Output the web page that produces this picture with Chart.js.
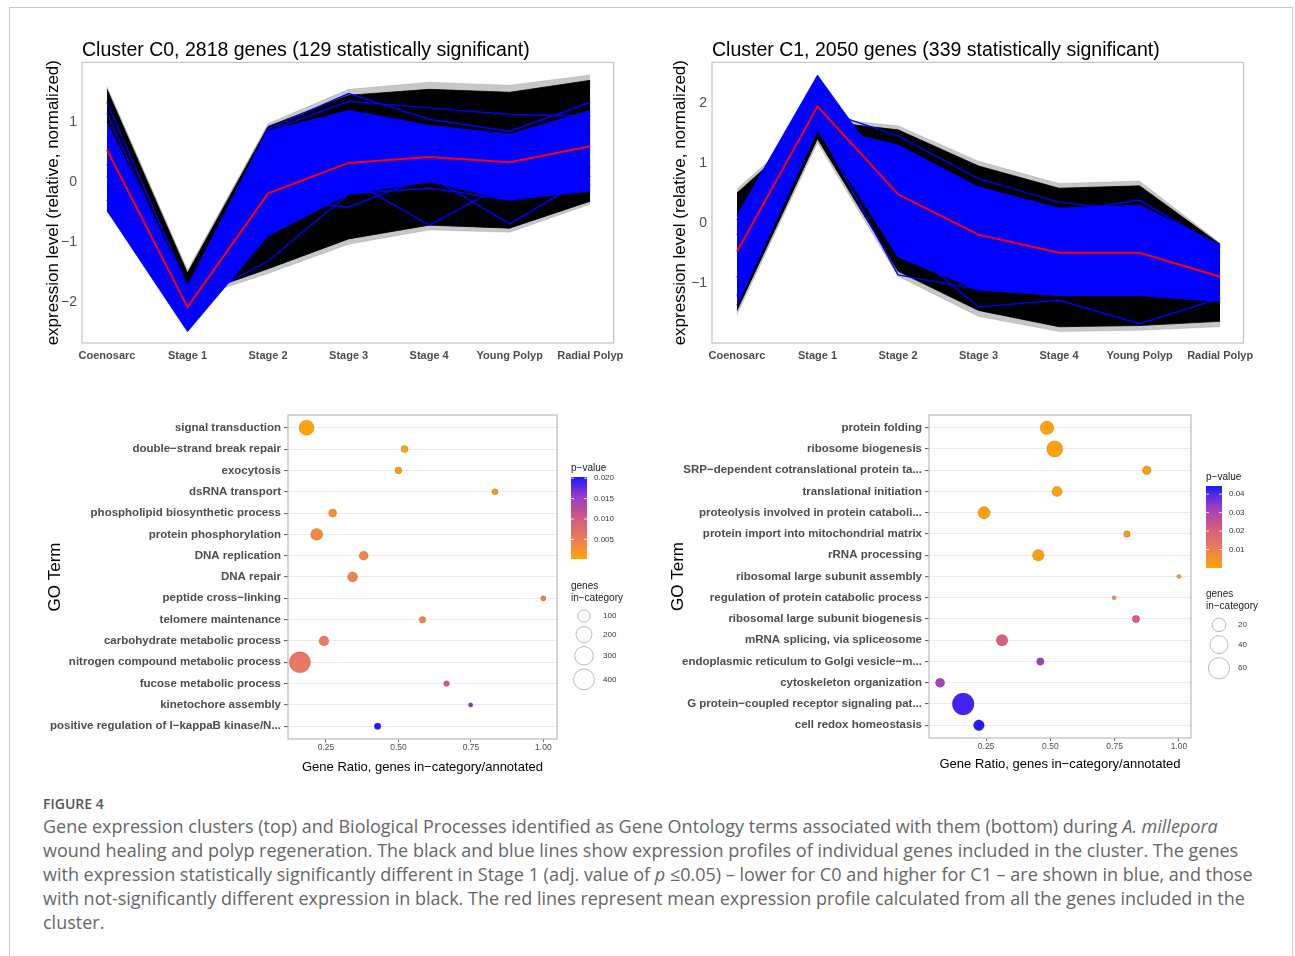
<!DOCTYPE html>
<html>
<head>
<meta charset="utf-8">
<title>Figure 4</title>
<script src="https://cdn.jsdelivr.net/npm/chart.js@4.4.1/dist/chart.umd.min.js"></script>
<style>
  html, body { margin: 0; padding: 0; background: #fff; }
  body { width: 1295px; height: 956px; position: relative; overflow: hidden; font-family: "Liberation Sans", Arial, sans-serif; }
  .frame { position: absolute; left: 9px; top: 7px; width: 1284px; height: 1000px; border: 1px solid #c8c8c8; box-sizing: border-box; }
  canvas { position: absolute; }
  #figLabel { position: absolute; left: 43px; top: 794px; font: 600 14px "Open Sans", sans-serif; color: #555; }
  #caption { position: absolute; left: 43px; top: 814px; font: 400 18px/24px "Open Sans", sans-serif; color: #666; white-space: nowrap; }
</style>
</head>
<body>
<div class="frame"></div>
<canvas id="lineC0" width="600" height="345" style="left:30px;top:30px"></canvas>
<canvas id="lineC1" width="603" height="345" style="left:657px;top:30px"></canvas>
<canvas id="goC0" width="600" height="389" style="left:41px;top:390px"></canvas>
<canvas id="goC1" width="606" height="386" style="left:664px;top:390px"></canvas>
<div id="figLabel">FIGURE 4</div>
<div id="caption">Gene expression clusters (top) and Biological Processes identified as Gene Ontology terms associated with them (bottom) during <i>A. millepora</i><br>wound healing and polyp regeneration. The black and blue lines show expression profiles of individual genes included in the cluster. The genes<br>with expression statistically significantly different in Stage 1 (adj. value of <i>p</i> ≤0.05) – lower for C0 and higher for C1 – are shown in blue, and those<br>with not-significantly different expression in black. The red lines represent mean expression profile calculated from all the genes included in the<br>cluster.</div>

<script>
// === Data ===
const stages = ['Coenosarc', 'Stage 1', 'Stage 2', 'Stage 3', 'Stage 4', 'Young Polyp', 'Radial Polyp'];

// Cluster C0: envelopes of all genes / significant genes, a few stand-out blue genes, mean
const c0Title = 'Cluster C0, 2818 genes (129 statistically significant)';
const c0YTicks = [-2, -1, 0, 1];
const c0Mean = [0.54, -2.09, -0.19, 0.32, 0.42, 0.33, 0.60];
const c0AllMax = [1.60, -1.47, 0.98, 1.55, 1.67, 1.62, 1.79];
const c0AllMin = [-0.50, -1.97, -1.53, -1.04, -0.80, -0.84, -0.37];
const c0MostMax = [1.55, -1.52, 0.93, 1.45, 1.55, 1.50, 1.70];
const c0MostMin = [-0.45, -1.92, -1.45, -0.95, -0.72, -0.77, -0.32];
const c0SigMax = [1.00, -1.75, 0.85, 1.20, 0.95, 0.80, 1.20];
const c0SigMin = [-0.48, -2.50, -0.90, -0.20, 0.00, -0.30, -0.15];
const c0SigLines = [
    [1.33, -1.75, 0.89, 1.48, 1.05, 0.85, 1.33],
    [1.15, -1.85, 0.85, 1.35, 1.24, 1.13, 1.10],
    [-0.30, -2.05, -1.32, -0.20, -0.10, -0.30, -0.05],
    [0.10, -2.20, -0.60, 0.05, -0.72, 0.00, 0.25],
    [0.30, -2.10, -0.30, -0.42, 0.10, -0.70, 0.10]
];

// Cluster C1
const c1Title = 'Cluster C1, 2050 genes (339 statistically significant)';
const c1YTicks = [-1, 0, 1, 2];
const c1Mean = [-0.47, 1.94, 0.48, -0.19, -0.49, -0.49, -0.89];
const c1AllMax = [0.57, 1.75, 1.62, 1.03, 0.66, 0.70, -0.33];
const c1AllMin = [-1.52, 1.33, -0.88, -1.55, -1.80, -1.78, -1.72];
const c1MostMax = [0.50, 1.70, 1.55, 0.95, 0.58, 0.62, -0.35];
const c1MostMin = [-1.45, 1.40, -0.80, -1.45, -1.72, -1.70, -1.63];
const c1SigPeakMax = [0.13, 2.46, 0.60, 0.30, 0.00, 0.00, -0.60];
const c1SigLateMax = [-0.10, 1.62, 1.30, 0.60, 0.25, 0.30, -0.36];
const c1SigMin = [-1.36, 1.55, -0.56, -1.11, -1.20, -1.20, -1.30];
const c1SigLines = [
    [-1.20, 1.60, -0.86, -1.10, -0.90, -1.15, -1.30],
    [-0.90, 1.70, -0.30, -1.39, -1.28, -1.67, -1.25],
    [0.05, 1.90, 1.45, 0.74, 0.35, 0.20, -0.50],
    [-0.20, 1.80, 1.00, 0.60, 0.20, 0.38, -0.40]
];

// GO terms for C0
const c0Terms = ['signal transduction', 'double−strand break repair', 'exocytosis', 'dsRNA transport',
    'phospholipid biosynthetic process', 'protein phosphorylation', 'DNA replication', 'DNA repair',
    'peptide cross−linking', 'telomere maintenance', 'carbohydrate metabolic process',
    'nitrogen compound metabolic process', 'fucose metabolic process', 'kinetochore assembly',
    'positive regulation of I−kappaB kinase/N...'];
const c0Ratio = [0.183, 0.521, 0.500, 0.833, 0.273, 0.218, 0.380, 0.342, 1.000, 0.583, 0.243, 0.160, 0.666, 0.749, 0.428];
const c0Genes = [170, 13, 12, 7, 22, 88, 34, 49, 4, 9, 45, 420, 6, 3, 10];
const c0PValue = [0.0003, 0.0008, 0.0011, 0.0012, 0.0022, 0.0035, 0.0040, 0.0042, 0.0043, 0.0045, 0.0050, 0.0058, 0.0095, 0.0165, 0.0200];
const c0PTicks = [0.005, 0.010, 0.015, 0.020];
const c0SizeBreaks = [100, 200, 300, 400];
const c0RatioTicks = [0.25, 0.50, 0.75, 1.00];

// GO terms for C1
const c1Terms = ['protein folding', 'ribosome biogenesis', 'SRP−dependent cotranslational protein ta...',
    'translational initiation', 'proteolysis involved in protein cataboli...',
    'protein import into mitochondrial matrix', 'rRNA processing', 'ribosomal large subunit assembly',
    'regulation of protein catabolic process', 'ribosomal large subunit biogenesis',
    'mRNA splicing, via spliceosome', 'endoplasmic reticulum to Golgi vesicle−m...',
    'cytoskeleton organization', 'G protein−coupled receptor signaling pat...', 'cell redox homeostasis'];
const c1Ratio = [0.487, 0.517, 0.875, 0.526, 0.242, 0.798, 0.453, 1.000, 0.748, 0.833, 0.312, 0.461, 0.071, 0.161, 0.222];
const c1Genes = [20, 30, 6, 9, 15, 3, 13, 2, 2, 4, 13, 4, 7, 64, 11];
const c1PValue = [0.0006, 0.0007, 0.0016, 0.0012, 0.0013, 0.0028, 0.0018, 0.0022, 0.0065, 0.0205, 0.0200, 0.0320, 0.0310, 0.0410, 0.0440];
const c1PTicks = [0.01, 0.02, 0.03, 0.04];
const c1SizeBreaks = [20, 40, 60];
const c1RatioTicks = [0.25, 0.50, 0.75, 1.00];

// === Shared look ===
const FONT = '"Liberation Sans", Arial, sans-serif';
Chart.defaults.font.family = FONT;
Chart.defaults.animation = false;

// orange -> salmon -> magenta -> purple -> blue, like the p-value colour bar
const pStops = [[0, [255, 165, 0]], [0.25, [234, 123, 92]], [0.5, [210, 90, 128]], [0.75, [154, 60, 200]], [1, [26, 26, 255]]];
function pColor(p, pMin, pMax) {
    const t = Math.min(1, Math.max(0, (p - pMin) / (pMax - pMin)));
    for (let i = 1; i < pStops.length; i++) {
        const [t1, c1] = pStops[i];
        const [t0, c0] = pStops[i - 1];
        if (t <= t1) {
            const f = (t - t0) / (t1 - t0);
            const c = c0.map((v, k) => Math.round(v + (c1[k] - v) * f));
            return `rgb(${c.join(',')})`;
        }
    }
    return 'rgb(26,26,255)';
}

// radius grows with sqrt of gene count, between smallest and largest term
function sizeScale(genes, rMin, rMax) {
    const nMin = Math.min(...genes), nMax = Math.max(...genes);
    return n => rMin + (rMax - rMin) * Math.sqrt(Math.max(0, n - nMin) / (nMax - nMin));
}

const pts = ys => ys.map((y, i) => ({ x: i, y }));
const minusFmt = v => (v < 0 ? '−' + Math.abs(v) : String(v));

// grey frame around the plotting panel
const panelBox = {
    id: 'panelBox',
    afterDraw(chart, args, opts) {
        const { ctx, chartArea: a } = chart;
        ctx.save();
        ctx.strokeStyle = opts.color || '#bdbdbd';
        ctx.lineWidth = 1.2;
        ctx.strokeRect(a.left, a.top, a.right - a.left, a.bottom - a.top);
        ctx.restore();
    }
};

// colour bar + size keys to the right of the GO panels
const goLegend = {
    id: 'goLegend',
    afterDraw(chart, args, o) {
        const { ctx, chartArea: a } = chart;
        const x0 = a.right + o.dx;
        ctx.save();
        ctx.textBaseline = 'middle';
        ctx.textAlign = 'left';
        ctx.fillStyle = '#1a1a1a';
        ctx.font = `10px ${FONT}`;
        ctx.fillText('p−value', x0, a.top + o.titleDy);

        const w = 16, top = a.top + o.barDy, bot = top + o.barH;
        const g = ctx.createLinearGradient(0, bot, 0, top);
        pStops.forEach(([t, c]) => g.addColorStop(t, `rgb(${c.join(',')})`));
        ctx.fillStyle = g;
        ctx.fillRect(x0, top, w, o.barH);

        ctx.font = `8px ${FONT}`;
        o.ticks.forEach(v => {
            const y = bot - (v - o.pMin) / (o.pMax - o.pMin) * o.barH;
            ctx.strokeStyle = 'rgba(255,255,255,0.85)';
            ctx.lineWidth = 1;
            ctx.beginPath();
            ctx.moveTo(x0, y); ctx.lineTo(x0 + 3, y);
            ctx.moveTo(x0 + w - 3, y); ctx.lineTo(x0 + w, y);
            ctx.stroke();
            ctx.fillStyle = '#333';
            ctx.fillText(v.toFixed(o.digits), x0 + w + 7, y);
        });

        ctx.fillStyle = '#1a1a1a';
        ctx.font = `10px ${FONT}`;
        ctx.fillText('genes', x0, a.top + o.genesDy);
        ctx.fillText('in−category', x0, a.top + o.genesDy + 12);

        let y = a.top + o.keysDy;
        ctx.font = `8px ${FONT}`;
        o.sizes.forEach(n => {
            const r = o.radius(n);
            const h = Math.max(2 * r + 4, 17);
            const cy = y + h / 2;
            ctx.beginPath();
            ctx.arc(x0 + 13, cy, r, 0, Math.PI * 2);
            ctx.fillStyle = '#fff';
            ctx.fill();
            ctx.strokeStyle = '#a8a8a8';
            ctx.lineWidth = 0.8;
            ctx.stroke();
            ctx.fillStyle = '#333';
            ctx.fillText(String(n), x0 + 32, cy);
            y += h;
        });
        ctx.restore();
    }
};

// === Expression profile panels ===
function band(upper, lower, color, order, lw) {
    return [
        { data: pts(lower), borderColor: color, borderWidth: lw, fill: false, order },
        { data: pts(upper), borderColor: color, borderWidth: lw, backgroundColor: color, fill: '-1', order }
    ];
}

function profileChart(id, cfg) {
    const datasets = [
        ...band(cfg.allMax, cfg.allMin, 'rgba(0,0,0,0.22)', 5, 0.5),
        ...band(cfg.mostMax, cfg.mostMin, '#000', 4, 0.8),
        ...cfg.sigBands.flatMap(b => band(b[0], b[1], '#0000ff', 3, 0.8)),
        ...cfg.sigLines.map(l => ({ data: pts(l), borderColor: '#0000ff', borderWidth: 1.4, fill: false, order: 2 })),
        { data: pts(cfg.mean), borderColor: '#ff0000', borderWidth: 2, fill: false, order: 1 }
    ];
    new Chart(document.getElementById(id), {
        type: 'line',
        data: { datasets },
        plugins: [panelBox],
        options: {
            responsive: false,
            events: [],
            layout: { padding: { left: 9, right: cfg.padRight, top: 0, bottom: 0 } },
            elements: { point: { radius: 0 }, line: { tension: 0 } },
            plugins: {
                legend: { display: false },
                tooltip: { enabled: false },
                title: {
                    display: true, text: cfg.title, align: 'start', fullSize: false,
                    color: '#000', font: { size: 19.5, weight: 'normal' },
                    padding: { top: 9, bottom: 0 }
                },
                panelBox: { color: '#c4c4c4' }
            },
            scales: {
                x: {
                    type: 'linear', min: -0.31, max: 6.29,
                    afterFit: s => { s.height = 32; },
                    afterBuildTicks: s => { s.ticks = stages.map((_, i) => ({ value: i })); },
                    grid: { display: false, drawTicks: false }, border: { display: false },
                    ticks: {
                        autoSkip: false, maxRotation: 0, padding: 6, color: '#4d4d4d',
                        font: { size: 11, weight: 'bold' }, callback: v => stages[v]
                    }
                },
                y: {
                    min: cfg.yMin, max: cfg.yMax,
                    afterFit: s => { s.width = cfg.yWidth; },
                    afterBuildTicks: s => { s.ticks = cfg.yTicks.map(v => ({ value: v })); },
                    grid: { display: false, drawTicks: false }, border: { display: false },
                    ticks: { padding: 5, color: '#4d4d4d', font: { size: 14 }, callback: minusFmt },
                    title: {
                        display: true, text: 'expression level (relative, normalized)',
                        color: '#000', font: { size: 17 }, padding: { top: 4, bottom: 4 }
                    }
                }
            }
        }
    });
}

profileChart('lineC0', {
    title: c0Title, yTicks: c0YTicks, yMin: -2.69, yMax: 2.0, yWidth: 43, padRight: 16.4,
    mean: c0Mean, allMax: c0AllMax, allMin: c0AllMin, mostMax: c0MostMax, mostMin: c0MostMin,
    sigBands: [[c0SigMax, c0SigMin]], sigLines: c0SigLines
});

profileChart('lineC1', {
    title: c1Title, yTicks: c1YTicks, yMin: -1.99, yMax: 2.67, yWidth: 46, padRight: 16.5,
    mean: c1Mean, allMax: c1AllMax, allMin: c1AllMin, mostMax: c1MostMax, mostMin: c1MostMin,
    sigBands: [[c1SigPeakMax, c1SigMin], [c1SigLateMax, c1SigMin]], sigLines: c1SigLines
});

// === GO term bubble panels ===
function goChart(id, cfg) {
    const radius = sizeScale(cfg.genes, cfg.rMin, cfg.rMax);
    const data = cfg.terms.map((t, i) => ({ x: cfg.ratio[i], y: i, r: radius(cfg.genes[i]) }));
    const colors = cfg.pValue.map(p => pColor(p, cfg.pMin, cfg.pMax));
    new Chart(document.getElementById(id), {
        type: 'bubble',
        data: {
            datasets: [{
                data, backgroundColor: colors,
                borderColor: 'rgba(0,0,0,0.25)', borderWidth: 0.6
            }]
        },
        plugins: [panelBox, goLegend],
        options: {
            responsive: false,
            events: [],
            layout: { padding: { left: 0, right: cfg.padRight, top: 25, bottom: 0 } },
            plugins: {
                legend: { display: false },
                tooltip: { enabled: false },
                panelBox: { color: '#bdbdbd' },
                goLegend: {
                    dx: cfg.legendDx, titleDy: cfg.titleDy, barDy: cfg.barDy, barH: 82,
                    genesDy: cfg.genesDy, keysDy: cfg.keysDy,
                    pMin: cfg.pMin, pMax: cfg.pMax, ticks: cfg.pTicks, digits: cfg.digits,
                    sizes: cfg.sizeBreaks, radius
                }
            },
            scales: {
                x: {
                    type: 'linear', min: cfg.xMin, max: cfg.xMax,
                    afterFit: s => { s.height = cfg.xHeight; },
                    afterBuildTicks: s => { s.ticks = cfg.xTicks.map(v => ({ value: v })); },
                    grid: { drawOnChartArea: false, tickLength: 3, tickColor: '#666' },
                    border: { display: false },
                    ticks: { padding: 1, color: '#4d4d4d', font: { size: 8.5 }, callback: v => v.toFixed(2) },
                    title: {
                        display: true, text: 'Gene Ratio, genes in−category/annotated',
                        color: '#000', font: { size: 13 }, padding: { top: 4, bottom: 4 }
                    }
                },
                y: {
                    type: 'linear', min: -0.6, max: cfg.terms.length - 0.4, reverse: true,
                    afterFit: s => { s.width = cfg.yWidth; },
                    afterBuildTicks: s => { s.ticks = cfg.terms.map((_, i) => ({ value: i })); },
                    grid: { color: '#ebebeb', lineWidth: 1.1, tickLength: 4, tickColor: '#666' },
                    border: { display: false },
                    ticks: {
                        autoSkip: false, padding: 3, color: '#4d4d4d',
                        font: { size: 11.5, weight: 'bold' }, callback: v => cfg.terms[v]
                    },
                    title: {
                        display: true, text: 'GO Term', color: '#000',
                        font: { size: 17 }, padding: { top: 4, bottom: 4 }
                    }
                }
            }
        }
    });
}

goChart('goC0', {
    terms: c0Terms, ratio: c0Ratio, genes: c0Genes, pValue: c0PValue,
    pMin: 0.0002, pMax: 0.0203, pTicks: c0PTicks, digits: 3, sizeBreaks: c0SizeBreaks,
    rMin: 2.2, rMax: 10.6, xTicks: c0RatioTicks, xMin: 0.119, xMax: 1.047,
    yWidth: 247, xHeight: 40, padRight: 84,
    legendDx: 14, titleDy: 53, barDy: 62, genesDy: 171, keysDy: 192.5
});

goChart('goC1', {
    terms: c1Terms, ratio: c1Ratio, genes: c1Genes, pValue: c1PValue,
    pMin: 0, pMax: 0.0444, pTicks: c1PTicks, digits: 2, sizeBreaks: c1SizeBreaks,
    rMin: 2.1, rMax: 10.9, xTicks: c1RatioTicks, xMin: 0.028, xMax: 1.047,
    yWidth: 265, xHeight: 38, padRight: 79,
    legendDx: 15, titleDy: 62, barDy: 71, genesDy: 179, keysDy: 201
});
</script>
</body>
</html>
